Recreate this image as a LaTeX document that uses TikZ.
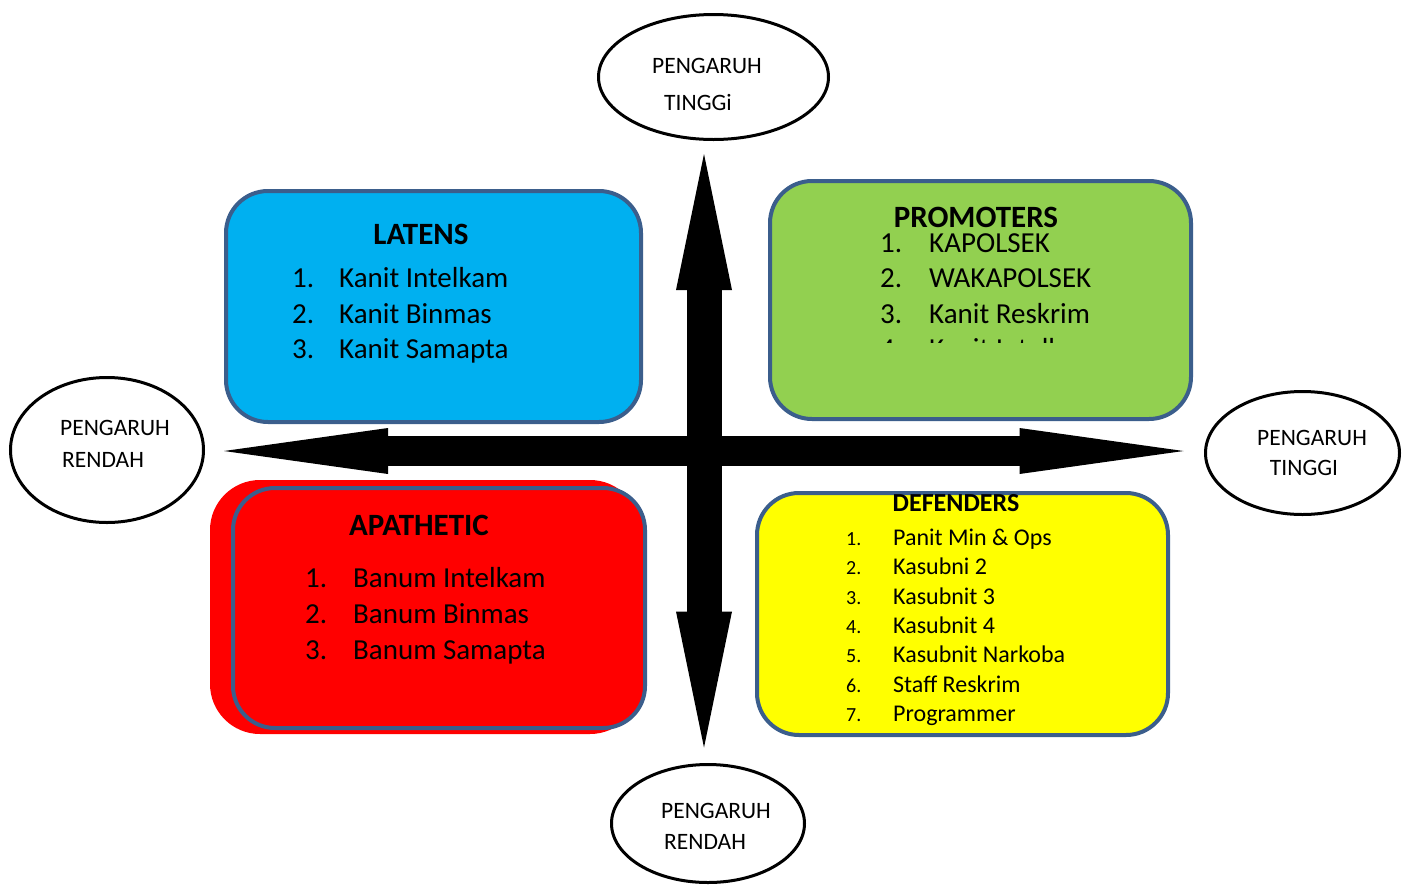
\documentclass[tikz,border=0pt]{standalone}
\usepackage{fontspec}
\setmainfont{Carlito}
\usetikzlibrary{shapes.geometric, arrows.meta}
\definecolor{latensblue}{HTML}{00B0F0}
\definecolor{promgreen}{HTML}{92D050}
\definecolor{apared}{HTML}{FF0000}
\definecolor{defyellow}{HTML}{FFFF00}
\definecolor{frameblue}{HTML}{3B5E8C}
\tikzstyle{quad} = [rectangle, rounded corners=42pt, draw=frameblue, line width=4pt, inner sep=0pt]
\tikzstyle{pole} = [ellipse, draw=black, line width=3pt, fill=white, inner sep=0pt]
\tikzstyle{poletext} = [font=\fontsize{23.5}{28}\selectfont, inner sep=0pt, anchor=base]
\tikzstyle{head} = [font=\bfseries\fontsize{31}{37}\selectfont, inner sep=0pt, anchor=base]
\tikzstyle{item} = [font=\fontsize{29}{35}\selectfont, inner sep=0pt, anchor=base west]
\tikzstyle{smallitem} = [font=\fontsize{24}{29}\selectfont, inner sep=0pt, anchor=base west]
\tikzstyle{vaxis} = [line width=35pt, {Triangle[length=136pt,width=56pt,line width=0pt]}-{Triangle[length=136pt,width=56pt,line width=0pt]}]
\tikzstyle{haxis} = [line width=30pt, {Triangle[length=164pt,width=46pt,line width=0pt]}-{Triangle[length=164pt,width=46pt,line width=0pt]}]

\begin{document}
\begin{tikzpicture}[x=1pt, y=-1pt]
\useasboundingbox (0,0) rectangle (1409,887);

% Quadrants
\node (latens) [quad, fill=latensblue, minimum width=415pt, minimum height=231pt] at (433.5,306.5) {};
\node (promoters) [quad, fill=promgreen, minimum width=421pt, minimum height=238pt] at (980.5,300) {};
\node (apashadow) [rectangle, rounded corners=50pt, fill=apared, minimum width=430pt, minimum height=254pt] at (425,607) {};
\node (apathetic) [quad, fill=apared, minimum width=412pt, minimum height=240pt] at (439,608) {};
\node (defenders) [quad, fill=defyellow, minimum width=411pt, minimum height=242pt] at (962.5,614) {};

% Poles
\node (hightop) [pole, minimum width=230pt, minimum height=125pt] at (713.5,77) {};
\node (lowleft) [pole, minimum width=193pt, minimum height=145pt] at (107,450) {};
\node (highright) [pole, minimum width=194pt, minimum height=123pt] at (1302.5,453) {};
\node (lowbottom) [pole, minimum width=193pt, minimum height=118pt] at (708,823.5) {};

\node (hightop1) [poletext] at (707,73) {PENGARUH};
\node (hightop2) [poletext] at (698,110) {TINGGi};
\node (lowleft1) [poletext] at (115,435) {PENGARUH};
\node (lowleft2) [poletext] at (103,467) {RENDAH};
\node (highright1) [poletext] at (1312,445) {PENGARUH};
\node (highright2) [poletext] at (1304,475) {TINGGI};
\node (lowbottom1) [poletext] at (716,818) {PENGARUH};
\node (lowbottom2) [poletext] at (705,849) {RENDAH};

% Axes
\coordinate (cross) at (704,451);
\draw [vaxis, shorten <=13pt, shorten >=15.5pt] (hightop.south -| cross) -- (lowbottom.north -| cross);
\draw [haxis, shorten <=19pt, shorten >=20.5pt] (lowleft.east |- cross) -- (highright.west |- cross);

% Latens
\node (latenshead) [head] at (421,244) {LATENS};
\node (latens1) [item] at (292,287) {\makebox[47pt][l]{1.}Kanit Intelkam};
\node (latens2) [item] at (292,323) {\makebox[47pt][l]{2.}Kanit Binmas};
\node (latens3) [item] at (292,358) {\makebox[47pt][l]{3.}Kanit Samapta};

% Promoters
\node (promhead) [head] at (976,227) {PROMOTERS};
\node (prom1) [item] at (880,252) {\makebox[49pt][l]{1.}KAPOLSEK};
\node (prom2) [item] at (880,287) {\makebox[49pt][l]{2.}WAKAPOLSEK};
\node (prom3) [item] at (880,323) {\makebox[49pt][l]{3.}Kanit Reskrim};
\begin{scope}
\clip (770,300) rectangle (1191,342);
\node (prom4) [item] at (880,358) {\makebox[49pt][l]{4.}Kanit Intelkam};
\end{scope}

% Apathetic
\node (apahead) [head] at (419,535) {APATHETIC};
\node (apa1) [item] at (305,587) {\makebox[48pt][l]{1.}Banum Intelkam};
\node (apa2) [item] at (305,623) {\makebox[48pt][l]{2.}Banum Binmas};
\node (apa3) [item] at (305,659) {\makebox[48pt][l]{3.}Banum Samapta};

% Defenders
\node (defhead) [head, font=\bfseries\fontsize{26}{31}\selectfont] at (956,511) {DEFENDERS};
\node (def1) [smallitem] at (846,545) {\makebox[47pt][l]{\fontsize{20}{24}\selectfont 1.}Panit Min \& Ops};
\node (def2) [smallitem] at (846,574) {\makebox[47pt][l]{\fontsize{20}{24}\selectfont 2.}Kasubni 2};
\node (def3) [smallitem] at (846,604) {\makebox[47pt][l]{\fontsize{20}{24}\selectfont 3.}Kasubnit 3};
\node (def4) [smallitem] at (846,633) {\makebox[47pt][l]{\fontsize{20}{24}\selectfont 4.}Kasubnit 4};
\node (def5) [smallitem] at (846,662) {\makebox[47pt][l]{\fontsize{20}{24}\selectfont 5.}Kasubnit Narkoba};
\node (def6) [smallitem] at (846,692) {\makebox[47pt][l]{\fontsize{20}{24}\selectfont 6.}Staff Reskrim};
\node (def7) [smallitem] at (846,721) {\makebox[47pt][l]{\fontsize{20}{24}\selectfont 7.}Programmer};

\end{tikzpicture}
\end{document}
